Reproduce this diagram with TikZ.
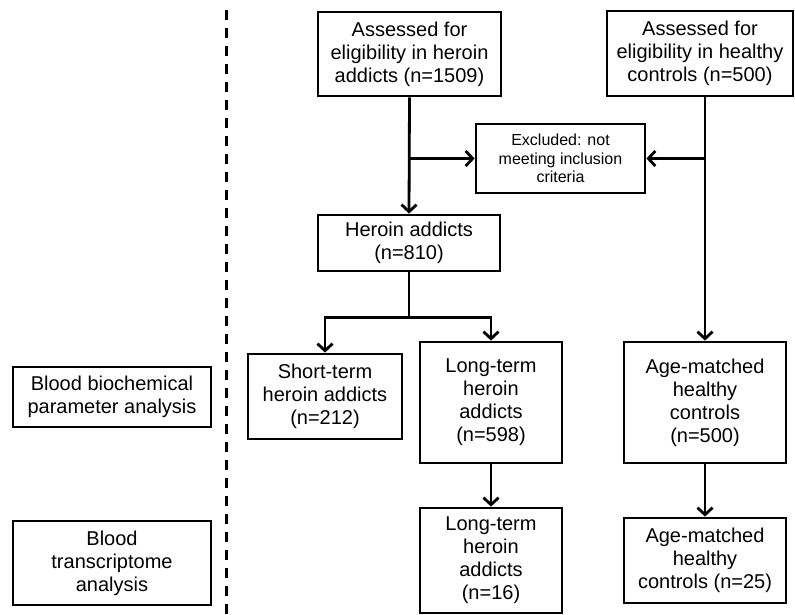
\documentclass[tikz,border=0pt]{standalone}
\usepackage{fontspec}
\setmainfont{Liberation Sans}
\usetikzlibrary{positioning, arrows.meta, calc}
\newcommand\boxfont{\fontsize{20pt}{23pt}\selectfont}
\newcommand\smallboxfont{\fontsize{16pt}{18.5pt}\selectfont}

\begin{document}
\begin{tikzpicture}[
    x=1pt, y=-1pt,
    flowbox/.style={rectangle, draw=black, line width=2.8pt, align=center, inner sep=2pt, font=\boxfont},
    smallbox/.style={flowbox, font=\smallboxfont},
    arr/.style={-{Straight Barb[length=7pt, width=15pt]}, line width=2.8pt},
    link/.style={line width=2.8pt},
    divider/.style={line width=3pt, dash pattern=on 10pt off 8pt},
  ]
  \useasboundingbox (0,0) rectangle (795,615);

  % Enrolment (top)
  \node[flowbox, minimum width=183pt, minimum height=84pt] (assH) at (409.5,54) {Assessed for\\eligibility in heroin\\addicts (n=1509)};
  \node[flowbox, minimum width=186pt, minimum height=85pt] (assC) at (700,53.5) {Assessed for\\eligibility in healthy\\controls (n=500)};
  \node[smallbox, minimum width=169pt, minimum height=69pt] (excl) at (560.5,158.5) {Excluded: not\\meeting inclusion\\criteria};
  \node[flowbox, minimum width=182pt, minimum height=56pt] (her) at (409,243) {Heroin addicts\\(n=810)};

  % Blood biochemical parameter analysis
  \node[flowbox, minimum width=198pt, minimum height=60pt] (bioc) at (112,397) {Blood biochemical\\parameter analysis};
  \node[flowbox, minimum width=154pt, minimum height=85pt] (shortH) at (325,396.5) {Short-term\\heroin addicts\\(n=212)};
  \node[flowbox, minimum width=142pt, minimum height=121pt] (longH) at (491,402.5) {Long-term\\heroin\\addicts\\(n=598)};
  \node[flowbox, minimum width=162pt, minimum height=121pt] (age500) at (705,402.5) {Age-matched\\healthy\\controls\\(n=500)};

  % Blood transcriptome analysis
  \node[flowbox, minimum width=198pt, minimum height=84pt] (trans) at (112,563) {Blood\\transcriptome\\analysis};
  \node[flowbox, minimum width=142pt, minimum height=105pt] (long16) at (491,560.5) {Long-term\\heroin\\addicts\\(n=16)};
  \node[flowbox, minimum width=162pt, minimum height=85pt] (age25) at (705,560.5) {Age-matched\\healthy\\controls (n=25)};

  % Divider
  \coordinate (divTop) at (226,10);
  \coordinate (divBot) at (226,615);
  \draw[divider] (divTop) -- (divBot);

  % Arrows
  \draw[arr] (assH.south) -- (her.north);
  \coordinate (exL) at (assH.south |- excl.west);
  \draw[arr] (exL) -- (excl.west);
  \draw[arr] (age500.north |- assC.south) -- (age500.north);
  \coordinate (exR) at (age500.north |- excl.east);
  \draw[arr] (exR) -- (excl.east);
  \coordinate (split) at ($(her.south)+(0,45)$);
  \draw[link] (her.south) -- (split);
  \draw[arr] (split) -| (shortH.north);
  \draw[arr] (split) -| (longH.north);
  \draw[arr] (longH) -- (long16);
  \draw[arr] (age500) -- (age25);
\end{tikzpicture}
\end{document}
